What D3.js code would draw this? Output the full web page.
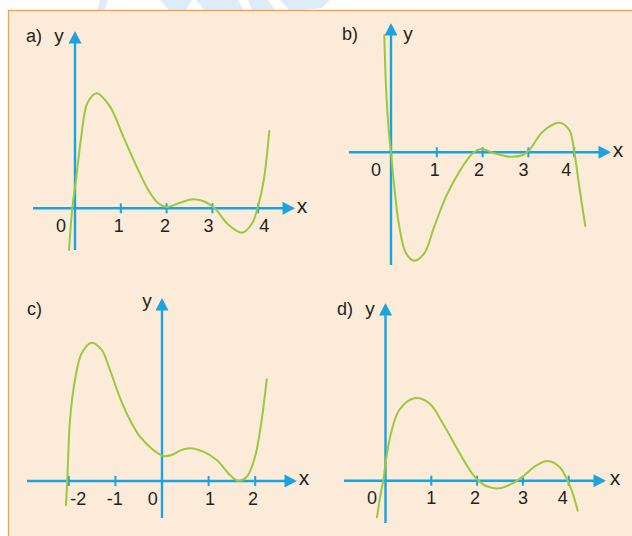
<!DOCTYPE html>
<html>
<head>
<meta charset="utf-8">
<script src="https://cdn.jsdelivr.net/npm/d3@7"></script>
<style>
  html, body { margin: 0; padding: 0; background: #ffffff; }
  svg { display: block; }
  text { font-family: "Liberation Sans", Arial, sans-serif; fill: #231f20; }
</style>
</head>
<body>
<svg id="chart" width="632" height="536"></svg>
<script>
// ---- Curve samples (x in axis units, y in the same units above the x-axis) ----
const curveAx = [-0.131, -0.059, 0.022, 0.146, 0.269, 0.474, 0.764, 1.055, 1.347, 1.600, 1.819, 2.000, 2.293, 2.583, 2.838, 3.050, 3.358, 3.651, 3.869, 3.985, 4.122, 4.242];
const curveAy = [-0.907, 0, 0.615, 1.630, 2.283, 2.500, 2.209, 1.557, 0.904, 0.398, 0.109, 0.030, 0.122, 0.196, 0.143, 0, -0.363, -0.530, -0.326, 0, 0.615, 1.680];

const curveBx = [-0.146, -0.109, -0.050, 0, 0.072, 0.181, 0.328, 0.509, 0.727, 0.945, 1.201, 1.491, 1.784, 1.965, 2.220, 2.583, 2.876, 3.020, 3.312, 3.675, 3.893, 4.002, 4.111, 4.242];
const curveBy = [2.550, 1.426, 0.485, 0, -0.748, -1.617, -2.196, -2.357, -2.196, -1.617, -0.965, -0.422, -0.022, 0.072, -0.009, -0.096, -0.059, 0.050, 0.448, 0.643, 0.485, 0, -0.748, -1.602];

const curveCx = [-2.060, -2.032, -1.974, -1.867, -1.723, -1.509, -1.294, -1.116, -0.938, -0.723, -0.472, -0.187, 0.028, 0.208, 0.386, 0.601, 0.886, 1.174, 1.459, 1.637, 1.818, 1.996, 2.139, 2.247];
const curveCy = [-0.522, 0.022, 1.326, 2.196, 2.776, 3.007, 2.848, 2.413, 1.907, 1.398, 0.963, 0.674, 0.543, 0.565, 0.659, 0.711, 0.637, 0.457, 0.130, 0.007, 0.093, 0.528, 1.326, 2.211];

const curveDx = [-0.186, -0.098, -0.048, 0.011, 0.120, 0.301, 0.629, 0.956, 1.249, 1.539, 1.795, 1.976, 2.194, 2.485, 2.777, 2.996, 3.286, 3.541, 3.795, 3.978, 4.087, 4.197];
const curveDy = [-0.796, -0.239, 0, 0.450, 1.030, 1.537, 1.791, 1.683, 1.248, 0.739, 0.304, 0.052, -0.115, -0.165, -0.057, 0.087, 0.326, 0.428, 0.304, 0, -0.274, -0.652];

// ---- Tick marks and tick labels ----
const ticksPositive = [1, 2, 3, 4];
const labelsPositive = ["0", "1", "2", "3", "4"];
const labelValuesPositive = [0, 1, 2, 3, 4];
const ticksCentered = [-2, -1, 1, 2];
const labelsCentered = ["-2", "-1", "0", "1", "2"];
const labelValuesCentered = [-2, -1, 0, 1, 2];

const panelNames = ["a)", "b)", "c)", "d)"];

// ---- Styling ----
const AXIS = "#1ba3e0";
const CURVE = "#98c93e";

const svg = d3.select("#chart");

// Faint emblem shapes peeking above the frame
const wm = svg.append("g").attr("fill", "#dcedf9");
wm.append("path").attr("d", "M100,0 L108,0 L104,11 L97,11 Z");
wm.append("path").attr("d", "M160,0 L192,0 L186,11 L170,11 Z");
wm.append("path").attr("d", "M196,0 L238,0 L244,11 L205,11 Z");
wm.append("path").attr("d", "M248,0 L268,0 L276,11 L252,11 Z");
wm.append("path").attr("d", "M280,0 L330,0 L322,8 L290,11 Z");

// Frame
svg.append("rect")
  .attr("x", 8.5).attr("y", 10.5)
  .attr("width", 660).attr("height", 560)
  .attr("fill", "#fdebd9")
  .attr("stroke", "#f6a33e")
  .attr("stroke-width", 1.3);

// Panel layouts (pixel placement of each small coordinate system)
const panels = [
  { name: panelNames[0], xs: curveAx, ys: curveAy, ox: 75, oy: 208.3, ux: 45.8,
    xAxis: [33, 295], yAxis: [250, 31], ticks: ticksPositive,
    labels: labelsPositive, labelValues: labelValuesPositive, labelDx: [-14, -2, -1.5, -4, 6], labelY: 232,
    nameX: 26, nameY: 42, yLabel: { x: 59, y: 42 }, xLabel: { x: 302, y: 213 } },
  { name: panelNames[1], xs: curveBx, ys: curveBy, ox: 391, oy: 152.3, ux: 45.8,
    xAxis: [349, 611], yAxis: [265, 23], ticks: ticksPositive,
    labels: labelsPositive, labelValues: labelValuesPositive, labelDx: [-15, -2, -3.5, -5, -8], labelY: 175.5,
    nameX: 342, nameY: 40, yLabel: { x: 408, y: 40 }, xLabel: { x: 618, y: 157 } },
  { name: panelNames[2], xs: curveCx, ys: curveCy, ox: 162, oy: 481, ux: 46.6,
    xAxis: [27, 297], yAxis: [518, 298], ticks: ticksCentered,
    labels: labelsCentered, labelValues: labelValuesCentered, labelDx: [9.5, -0.7, -9.3, 1.4, -2.2], labelY: 504.5,
    nameX: 27, nameY: 315, yLabel: { x: 147, y: 307 }, xLabel: { x: 304, y: 485 } },
  { name: panelNames[3], xs: curveDx, ys: curveDy, ox: 385.5, oy: 480.7, ux: 45.8,
    xAxis: [344, 606], yAxis: [523, 303], ticks: ticksPositive,
    labels: labelsPositive, labelValues: labelValuesPositive, labelDx: [-13.5, 0, -2, 0, -6], labelY: 503.5,
    nameX: 337, nameY: 315, yLabel: { x: 370, y: 315 }, xLabel: { x: 615, y: 485 } }
];

const uy = 46;

panels.forEach(p => {
  const g = svg.append("g");
  const x = d3.scaleLinear().domain([0, 1]).range([p.ox, p.ox + p.ux]);
  const y = d3.scaleLinear().domain([0, 1]).range([p.oy, p.oy - uy]);
  const ax = x(0), ay = y(0);

  // x-axis with arrow
  g.append("line")
    .attr("x1", p.xAxis[0]).attr("x2", p.xAxis[1] - 8)
    .attr("y1", ay).attr("y2", ay)
    .attr("stroke", AXIS).attr("stroke-width", 2.4);
  g.append("path")
    .attr("d", `M${p.xAxis[1]},${ay} L${p.xAxis[1] - 12.5},${ay - 6.5} L${p.xAxis[1] - 12.5},${ay + 6.5} Z`)
    .attr("fill", AXIS);

  // y-axis with arrow
  g.append("line")
    .attr("x1", ax).attr("x2", ax)
    .attr("y1", p.yAxis[0]).attr("y2", p.yAxis[1] + 8)
    .attr("stroke", AXIS).attr("stroke-width", 2.4);
  g.append("path")
    .attr("d", `M${ax},${p.yAxis[1]} L${ax - 6.5},${p.yAxis[1] + 12.5} L${ax + 6.5},${p.yAxis[1] + 12.5} Z`)
    .attr("fill", AXIS);

  // tick marks
  g.selectAll("line.tick").data(p.ticks).join("line")
    .attr("class", "tick")
    .attr("x1", d => x(d)).attr("x2", d => x(d))
    .attr("y1", ay - 5).attr("y2", ay + 5)
    .attr("stroke", AXIS).attr("stroke-width", 2);

  // tick labels
  g.selectAll("text.tl").data(p.labels).join("text")
    .attr("class", "tl")
    .attr("x", (d, i) => x(p.labelValues[i]) + p.labelDx[i])
    .attr("y", p.labelY)
    .attr("text-anchor", "middle")
    .attr("font-size", 18)
    .text(d => d);

  // curve
  const pts = p.xs.map((v, i) => [v, p.ys[i]]);
  g.append("path")
    .datum(pts)
    .attr("fill", "none")
    .attr("stroke", CURVE)
    .attr("stroke-width", 2)
    .attr("stroke-linecap", "round")
    .attr("d", d3.line().x(d => x(d[0])).y(d => y(d[1])).curve(d3.curveCatmullRom.alpha(0.5)));

  // names and axis letters
  g.append("text").attr("x", p.nameX).attr("y", p.nameY).attr("font-size", 18).text(p.name);
  g.append("text").attr("x", p.yLabel.x).attr("y", p.yLabel.y).attr("text-anchor", "middle").attr("font-size", 19).text("y");
  g.append("text").attr("x", p.xLabel.x).attr("y", p.xLabel.y).attr("text-anchor", "middle").attr("font-size", 21).text("x");
});
</script>
</body>
</html>
